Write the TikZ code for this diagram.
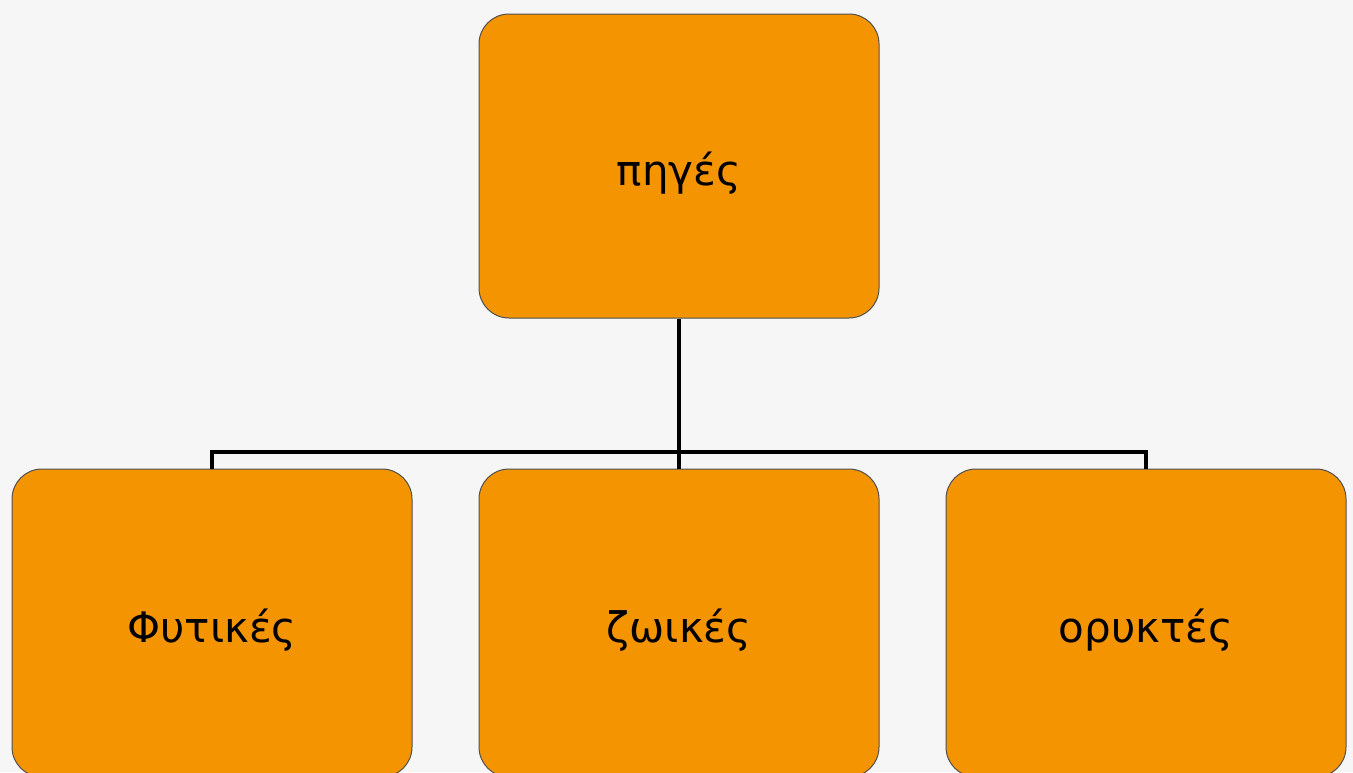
\documentclass[tikz,border=0pt]{standalone}
\usepackage{fontspec}
\setmainfont{DejaVu Sans}
\definecolor{boxfill}{HTML}{F49401}
\definecolor{boxline}{HTML}{505050}
\definecolor{bggray}{HTML}{F6F6F6}

\begin{document}
\begin{tikzpicture}[x=0.5pt, y=-0.5pt,
    source/.style={rectangle, rounded corners=15pt, fill=boxfill, draw=boxline, line width=.5pt,
        minimum width=200pt, minimum height=152pt, text height=24pt, text depth=5pt,
        font=\fontsize{21}{26}\selectfont},
    link/.style={line width=1.8pt, black}]
    % Background
    \useasboundingbox[fill=bggray] (0,0) rectangle (1353,772);
    % Top
    \node[source] (Top) at (679,166) {πηγές};
    % Children
    \foreach \name/\x/\i in {Φυτικές/212/1,ζωικές/679/2,ορυκτές/1146/3} {
        \node[source, minimum height=154pt] (Child-\i) at (\x,623) {\name};
    }
    % Lines
    \coordinate (Bus) at (679,452);
    \draw[link] (Top.south) -- (Bus);
    \foreach \i in {1,2,3} {
        \draw[link] (Child-\i.north) |- (Bus);
    }
\end{tikzpicture}
\end{document}
